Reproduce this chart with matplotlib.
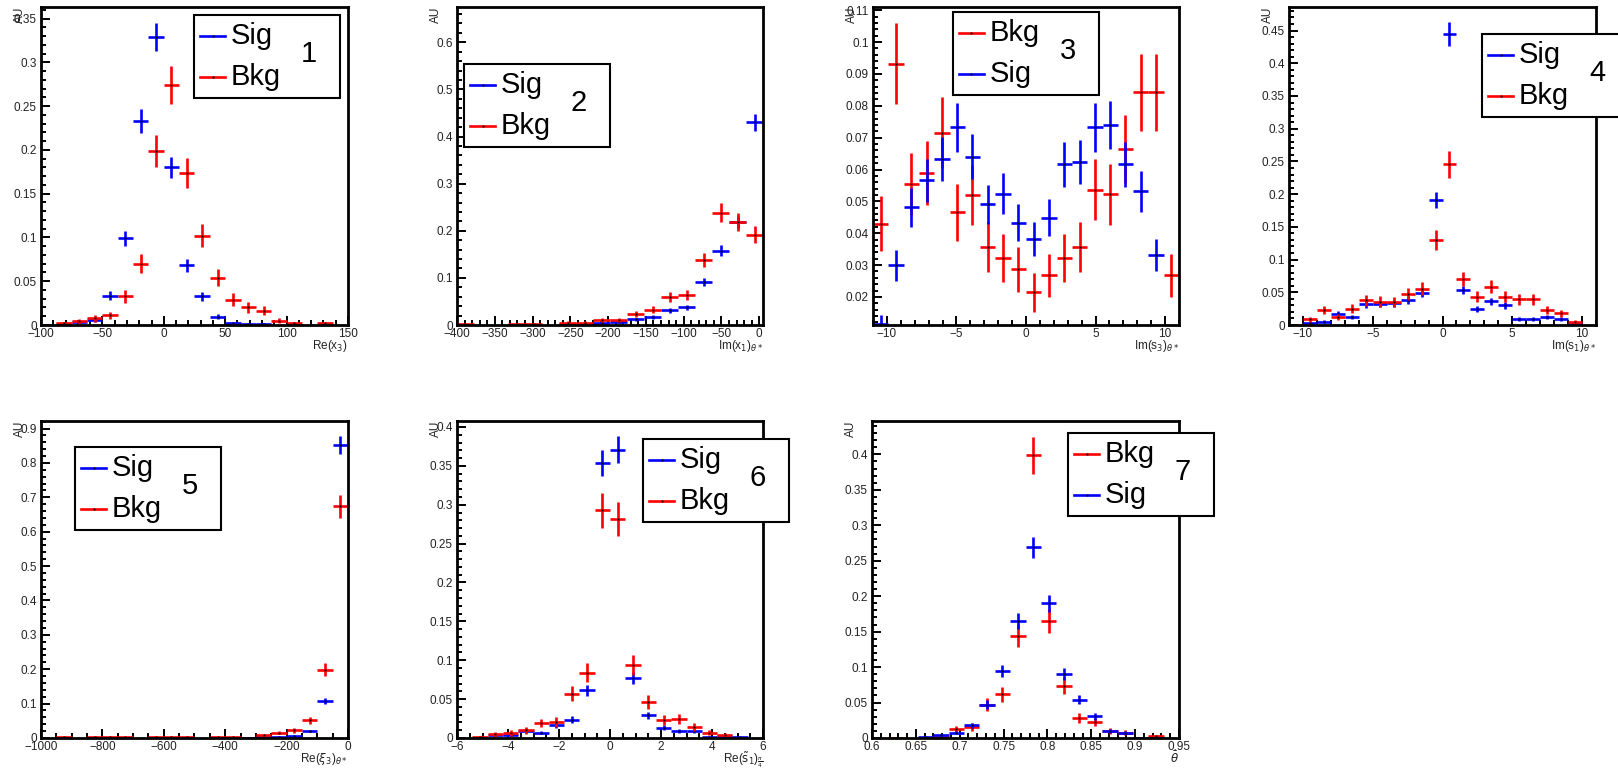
import numpy as np
import matplotlib
matplotlib.use("Agg")
import matplotlib.pyplot as plt
from matplotlib.patches import Rectangle
from matplotlib.lines import Line2D
from matplotlib.ticker import MultipleLocator, FuncFormatter

plt.rcParams['font.family'] = ['Liberation Sans', 'DejaVu Sans']

# events behind each normalised histogram (sets the Poisson error bars)
N_SIG = 1280
N_BKG = 580

# ---- panel 1: Re(x3), 20 bins over [-100, 150]
p1_bins = (-100, 150, 20)
p1_sig = [0, 0.001, 0.003, 0.006, 0.0335, 0.099, 0.233, 0.329, 0.180, 0.068,
          0.0327, 0.0095, 0.002, 0.001, 0.001, 0, 0, 0, 0, 0]
p1_bkg = [0, 0.002, 0.004, 0.0076, 0.011, 0.0327, 0.070, 0.199, 0.274, 0.174,
          0.102, 0.054, 0.029, 0.020, 0.0164, 0.005, 0.002, 0, 0.002, 0]

# ---- panel 2: Im(x1), 18 bins over [-400, 5]
p2_bins = (-400, 5, 18)
p2_sig = [0, 0, 0, 0, 0, 0, 0.002, 0.0013, 0.004, 0.0064, 0.012, 0.0171,
          0.0313, 0.0377, 0.0905, 0.158, 0.2187, 0.4305]
p2_bkg = [0.0015, 0, 0, 0.0015, 0.0015, 0, 0.005, 0.005, 0.0098, 0.0098,
          0.0235, 0.0327, 0.0598, 0.064, 0.138, 0.2386, 0.2187, 0.1916]

# ---- panel 3: Im(s3), 20 bins over [-11, 11]
p3_bins = (-11, 11, 20)
p3_sig = [0.0114, 0.0299, 0.0482, 0.0566, 0.0633, 0.0732, 0.0640, 0.0491, 0.0524, 0.0433,
          0.0382, 0.0449, 0.0616, 0.0624, 0.0732, 0.0740, 0.0616, 0.0532, 0.0332, 0.006]
p3_bkg = [0.0430, 0.0932, 0.0555, 0.0590, 0.0716, 0.0466, 0.0520, 0.0358, 0.0322, 0.0287,
          0.0215, 0.0268, 0.0322, 0.0358, 0.0537, 0.0522, 0.0663, 0.0842, 0.0842, 0.0268]

# ---- panel 4: Im(s1), 22 bins over [-11, 11]
p4_bins = (-11, 11, 22)
p4_sig = [0, 0.0036, 0.005, 0.017, 0.0128, 0.0317, 0.032, 0.033, 0.0378, 0.0496, 0.191,
          0.445, 0.0537, 0.025, 0.0363, 0.030, 0.0092, 0.009, 0.0128, 0.0092, 0.002, 0]
p4_bkg = [0, 0.0087, 0.023, 0.0128, 0.025, 0.0378, 0.0358, 0.035, 0.0476, 0.0557, 0.130,
          0.246, 0.070, 0.0435, 0.0588, 0.0435, 0.039, 0.039, 0.023, 0.0179, 0.005, 0]

# ---- panel 5: Re(xi3), 20 bins over [-1000, 0]
p5_bins = (-1000, 0, 20)
p5_sig = [0, 0, 0, 0, 0, 0, 0, 0, 0.001, 0, 0, 0.001, 0, 0.001, 0.002, 0.003,
          0.006, 0.0204, 0.1077, 0.8516]
p5_bkg = [0, 0.003, 0, 0.003, 0.003, 0.003, 0, 0.003, 0.003, 0.003, 0, 0.003, 0.003, 0,
          0.0078, 0.0155, 0.022, 0.0514, 0.1988, 0.674]

# ---- panel 6: Re(s~1), 20 bins over [-6, 6]
p6_bins = (-6, 6, 20)
p6_sig = [0, 0, 0.004, 0.004, 0.0086, 0.0069, 0.017, 0.0236, 0.0613, 0.3537,
          0.3708, 0.0776, 0.0292, 0.0133, 0.0086, 0.0086, 0.001, 0.002, 0.001, 0]
p6_bkg = [0, 0.001, 0.0047, 0.0064, 0.0099, 0.0193, 0.0206, 0.057, 0.084, 0.2928,
          0.282, 0.0943, 0.0463, 0.0227, 0.0249, 0.0141, 0.0069, 0.0034, 0, 0]

# ---- panel 7: theta bar, 20 bins over [0.6, 0.95]
p7_bins = (0.6, 0.95, 20)
p7_sig = [0, 0, 0, 0.001, 0.004, 0.0075, 0.018, 0.047, 0.094, 0.1645,
          0.269, 0.190, 0.0907, 0.054, 0.0306, 0.0103, 0.0075, 0.0005, 0.0005, 0]
p7_bkg = [0, 0.0005, 0, 0, 0.002, 0.0122, 0.0155, 0.047, 0.0616, 0.1443,
          0.3986, 0.1645, 0.0729, 0.0282, 0.0226, 0.0094, 0.0075, 0, 0.0024, 0]

x_labels = [r"Re(x$_3$)", r"Im(x$_1$)$_{\theta*}$", r"Im(s$_3$)$_{\theta*}$",
            r"Im(s$_1$)$_{\theta*}$", r"Re($\xi_3$)$_{\theta*}$",
            r"Re($\tilde{\mathrm{s}}_1$)$_{\frac{\pi}{4}}$", r"$\bar{\theta}$"]

W, H = 1618, 775
SIG_COLOR = '#0000ff'
BKG_COLOR = '#ff0000'
LW = 1.9


def px_rect(left, top, right, bottom):
    return [left / W, 1 - bottom / H, (right - left) / W, (bottom - top) / H]


def fmt_tick(v, pos):
    if abs(v) < 1e-9:
        return "0"
    return f"{round(v, 6):g}".replace('-', '\u2212')


def draw_hist(ax, bins, vals, color, n_events):
    lo, hi, n = bins
    width = (hi - lo) / n
    centers = lo + width * (np.arange(n) + 0.5)
    vals = np.asarray(vals, dtype=float)
    mask = vals > 0
    err = np.sqrt(vals / n_events)
    ax.errorbar(centers[mask], vals[mask], xerr=width / 2, yerr=err[mask],
                fmt='none', ecolor=color, elinewidth=LW, capsize=0)
    ax.plot(centers[mask], vals[mask], ls='none', marker='s', ms=1.3,
            color='black', mew=0)


def draw_legend(fig, left, top, entries, number):
    box = Rectangle((left / W, 1 - (top + 83) / H), 146 / W, 83 / H,
                    transform=fig.transFigure, facecolor='white',
                    edgecolor='black', lw=1.5, zorder=10)
    fig.add_artist(box)
    for i, (label, color) in enumerate(entries):
        ly = top + 21 + 41 * i
        fig.add_artist(Line2D([(left + 6) / W, (left + 31) / W], [1 - ly / H] * 2,
                              color=color, lw=LW, transform=fig.transFigure, zorder=11))
        fig.add_artist(Line2D([(left + 18.5) / W], [1 - ly / H], marker='s', ms=1.3,
                              mew=0, color='black', transform=fig.transFigure, zorder=12))
        fig.text((left + 37) / W, 1 - (ly + 8) / H, label, fontsize=21,
                 ha='left', va='baseline', zorder=12)
    fig.text((left + 115) / W, 1 - (top + 39) / H, number, fontsize=21,
             ha='center', va='center', zorder=12)


fig = plt.figure(figsize=(W / 100, H / 100), dpi=100)

panels = [
    # data, axes rect (px), xlim, ylim, x major/minor, y major/minor, legend order, legend top-left
    dict(bins=p1_bins, sig=p1_sig, bkg=p1_bkg, rect=(41, 7, 348, 325),
         xlim=(-100, 150), ylim=(0, 0.3634), xt=(50, 10), yt=(0.05, 0.01),
         order='SB', leg=(194, 15)),
    dict(bins=p2_bins, sig=p2_sig, bkg=p2_bkg, rect=(457, 7, 763, 325),
         xlim=(-400, 5), ylim=(0, 0.675), xt=(50, 10), yt=(0.1, 0.02),
         order='SB', leg=(464, 64)),
    dict(bins=p3_bins, sig=p3_sig, bkg=p3_bkg, rect=(873, 7, 1179, 325),
         xlim=(-11, 11), ylim=(0.0112, 0.111), xt=(5, 1), yt=(0.01, 0.002),
         order='BS', leg=(953, 12)),
    dict(bins=p4_bins, sig=p4_sig, bkg=p4_bkg, rect=(1289, 7, 1596, 325),
         xlim=(-11, 11), ylim=(0, 0.486), xt=(5, 1), yt=(0.05, 0.01),
         order='SB', leg=(1482, 34)),
    dict(bins=p5_bins, sig=p5_sig, bkg=p5_bkg, rect=(41, 421, 348, 738),
         xlim=(-1000, 0), ylim=(0, 0.922), xt=(200, 50), yt=(0.1, 0.02),
         order='SB', leg=(75, 447)),
    dict(bins=p6_bins, sig=p6_sig, bkg=p6_bkg, rect=(457, 421, 763, 738),
         xlim=(-6, 6), ylim=(0, 0.4077), xt=(2, 0.5), yt=(0.05, 0.01),
         order='SB', leg=(643, 439)),
    dict(bins=p7_bins, sig=p7_sig, bkg=p7_bkg, rect=(872, 421, 1179, 738),
         xlim=(0.6, 0.95), ylim=(0, 0.447), xt=(0.05, 0.01), yt=(0.05, 0.01),
         order='BS', leg=(1068, 433)),
]

for i, p in enumerate(panels):
    ax = fig.add_axes(px_rect(*p['rect']))
    entries = []
    for key in p['order']:
        if key == 'S':
            draw_hist(ax, p['bins'], p['sig'], SIG_COLOR, N_SIG)
            entries.append(('Sig', SIG_COLOR))
        else:
            draw_hist(ax, p['bins'], p['bkg'], BKG_COLOR, N_BKG)
            entries.append(('Bkg', BKG_COLOR))

    ax.set_xlim(*p['xlim'])
    ax.set_ylim(*p['ylim'])
    ax.xaxis.set_major_locator(MultipleLocator(p['xt'][0]))
    ax.xaxis.set_minor_locator(MultipleLocator(p['xt'][1]))
    ax.yaxis.set_major_locator(MultipleLocator(p['yt'][0]))
    ax.yaxis.set_minor_locator(MultipleLocator(p['yt'][1]))
    ax.xaxis.set_major_formatter(FuncFormatter(fmt_tick))
    ax.yaxis.set_major_formatter(FuncFormatter(fmt_tick))
    ax.tick_params(which='both', direction='in', top=False, right=False,
                   labelsize=8.5, labelcolor='#222222', width=1.4)
    ax.tick_params(which='major', length=6.5)
    ax.tick_params(which='minor', length=3.5)
    ax.tick_params(axis='x', pad=2)
    ax.tick_params(axis='y', pad=3)
    for sp in ax.spines.values():
        sp.set_linewidth(2.0)

    ax.text(1.0, -0.04, x_labels[i], transform=ax.transAxes, ha='right',
            va='top', fontsize=8.5, color='#222222')
    ax.text(-0.068, 1.0, 'AU', transform=ax.transAxes, rotation=90,
            ha='center', va='top', fontsize=8.5, color='#222222')

    draw_legend(fig, p['leg'][0], p['leg'][1], entries, str(i + 1))

fig.savefig('out.png', dpi=100)
